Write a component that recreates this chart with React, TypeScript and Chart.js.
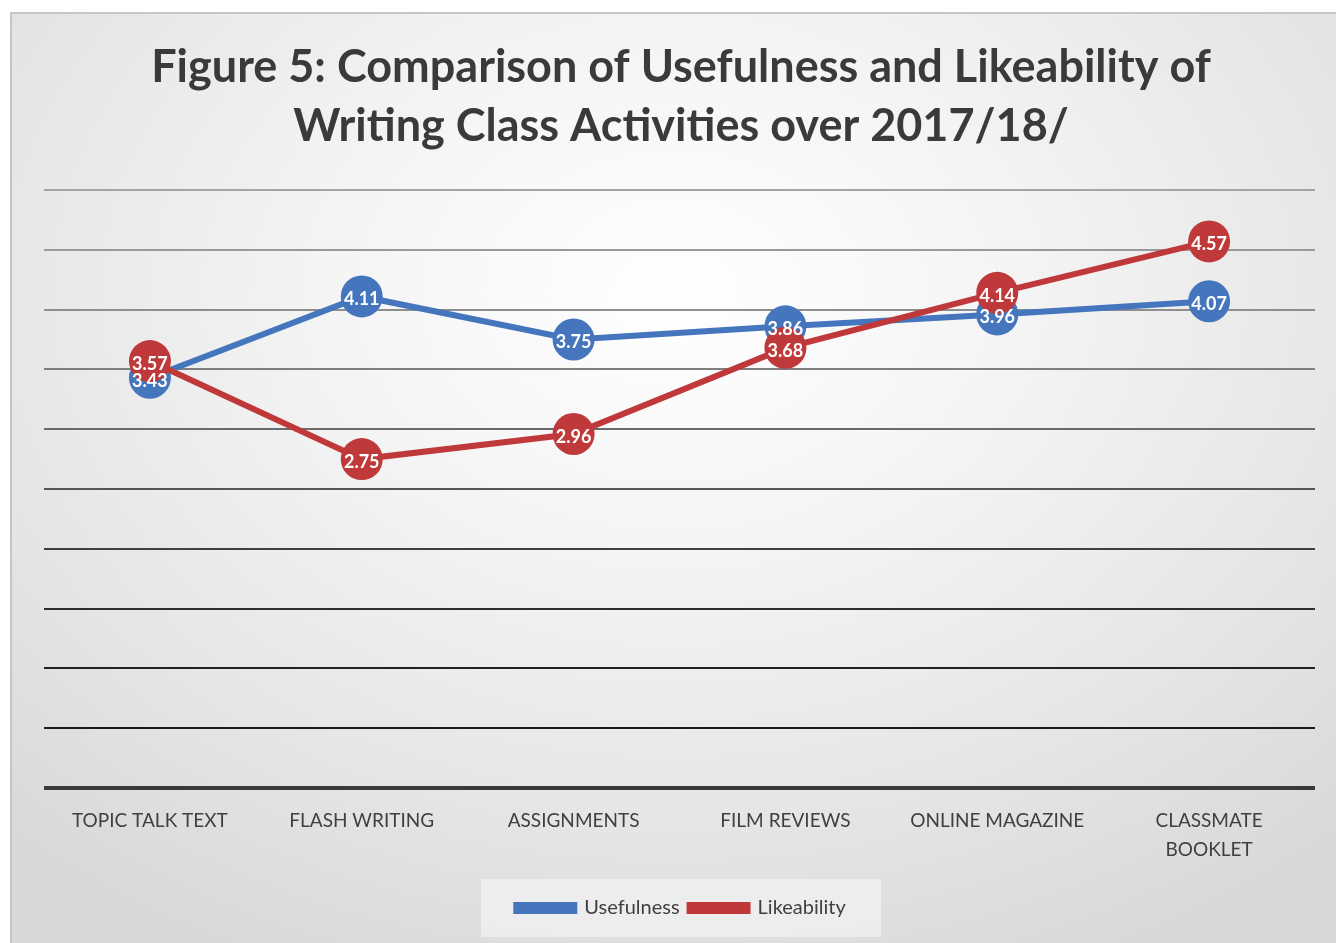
import React, { useEffect, useRef } from "react";
import { Chart, registerables } from "chart.js";

Chart.register(...registerables);

const categories: (string | string[])[] = [
  "TOPIC TALK TEXT",
  "FLASH WRITING",
  "ASSIGNMENTS",
  "FILM REVIEWS",
  "ONLINE MAGAZINE",
  ["CLASSMATE", "BOOKLET"],
];
const usefulness = [3.43, 4.11, 3.75, 3.86, 3.96, 4.07];
const likeability = [3.57, 2.75, 2.96, 3.68, 4.14, 4.57];
const titleLines = [
  "Figure 5: Comparison of Usefulness and Likeability of",
  "Writing Class Activities over 2017/18/",
];

const BLUE = "#4576bd";
const RED = "#c0393a";
const FONT = "Lato, 'Open Sans', sans-serif";

const gridColors = [
  "#3a3a3a", "#1a1a1a", "#222222", "#2e2e2e", "#404040",
  "#555555", "#6a6a6a", "#7e7e7e", "#8e8e8e", "#9a9a9a", "#a4a4a4",
];

const valueLabels = {
  id: "valueLabels",
  afterDatasetsDraw(chart: any) {
    const ctx = chart.ctx;
    ctx.save();
    ctx.fillStyle = "#ffffff";
    ctx.font = `bold 18px ${FONT}`;
    ctx.textAlign = "center";
    ctx.textBaseline = "middle";
    chart.data.datasets.forEach((ds: any, di: number) => {
      const meta = chart.getDatasetMeta(di);
      meta.data.forEach((pt: any, i: number) => {
        ctx.fillText(ds.data[i].toFixed(2), pt.x, pt.y + 3);
      });
    });
    ctx.restore();
  },
};

const legendBg = {
  id: "legendBg",
  beforeDraw(chart: any) {
    const lg = chart.legend;
    if (!lg) return;
    const ctx = chart.ctx;
    const cx = (lg.left + lg.right) / 2;
    const cy = (lg.top + lg.bottom) / 2;
    ctx.save();
    ctx.fillStyle = "rgba(240,240,240,0.8)";
    ctx.fillRect(cx - 200, cy - 29, 400, 58);
    ctx.restore();
  },
};

export default function App() {
  const ref = useRef<HTMLCanvasElement | null>(null);
  useEffect(() => {
    if (!ref.current) return;
    const chart = new Chart(ref.current, {
      type: "line",
      data: {
        labels: categories,
        datasets: [
          {
            label: "Usefulness",
            data: usefulness,
            borderColor: BLUE,
            backgroundColor: BLUE,
            pointBackgroundColor: BLUE,
            pointBorderWidth: 0,
            pointRadius: 21,
            borderWidth: 6,
            tension: 0,
            order: 1,
          },
          {
            label: "Likeability",
            data: likeability,
            borderColor: RED,
            backgroundColor: RED,
            pointBackgroundColor: RED,
            pointBorderWidth: 0,
            pointRadius: 21,
            borderWidth: 6,
            tension: 0,
            order: 0,
          },
        ],
      },
      options: {
        animation: false,
        responsive: false,
        maintainAspectRatio: false,
        layout: { padding: { left: 32, right: 18, top: 0, bottom: 15 } },
        plugins: {
          title: {
            display: true,
            text: titleLines,
            color: "#3a3a3a",
            font: { family: FONT, size: 45, weight: "bold", lineHeight: "59px" },
            padding: { top: 24, bottom: 34 },
          },
          legend: {
            position: "bottom",
            labels: {
              color: "#404040",
              font: { family: FONT, size: 20 },
              boxWidth: 58,
              boxHeight: 6,
              padding: 10,
              sort: (a: any, b: any) => a.datasetIndex - b.datasetIndex,
            },
          },
          tooltip: { enabled: false },
        },
        scales: {
          x: {
            offset: true,
            grid: { display: false, drawTicks: false },
            border: { display: false },
            ticks: {
              color: "#404040",
              font: { family: FONT, size: 19, lineHeight: "29px" },
              padding: 18,
              maxRotation: 0,
              autoSkip: false,
            },
            afterFit(scale: any) {
              scale.height = 100;
            },
          },
          y: {
            min: 0,
            max: 5,
            ticks: { display: false, stepSize: 0.5 },
            border: { display: false },
            grid: {
              drawTicks: false,
              color: (c: any) => gridColors[c.index] || "#a0a0a0",
              lineWidth: (c: any) => (c.index === 0 ? 4 : 2),
            },
          },
        },
      },
      plugins: [legendBg, valueLabels],
    });
    return () => chart.destroy();
  }, []);

  return (
    <div
      style={{
        position: "fixed",
        left: 10,
        top: 12,
        width: 1326,
        height: 931,
        boxSizing: "border-box",
        border: "2px solid #c6c6c6",
        borderRight: "none",
        borderBottom: "none",
        background:
          "radial-gradient(ellipse 75% 80% at 50% 30%, #ffffff 0%, #f4f4f4 35%, #e6e6e6 70%, #d8d8d8 100%)",
      }}
    >
      <canvas ref={ref} width={1324} height={929} style={{ display: "block" }} />
    </div>
  );
}
